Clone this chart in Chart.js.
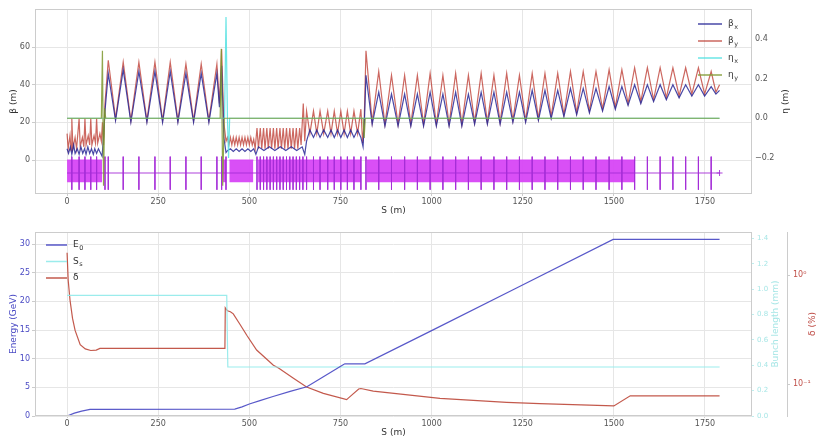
<!DOCTYPE html>
<html><head><meta charset="utf-8">
<script src="https://cdn.jsdelivr.net/npm/chart.js@4.4.0/dist/chart.umd.min.js"></script>
<style>
html,body{margin:0;padding:0;background:#fff;}
#wrap{position:relative;width:820px;height:438px;overflow:hidden;}
canvas{position:absolute;left:0;}
#c1{top:0;} #c2{top:219px;}
</style></head><body>
<div id="wrap"><canvas id="c1" width="820" height="219"></canvas><canvas id="c2" width="820" height="219"></canvas></div>
<script>
// ---------------- DATA ----------------
const X_TICKS = [0,250,500,750,1000,1250,1500,1750];
const BETA_TICKS = [0,20,40,60];
const ETA_TICKS = [-0.2,0,0.2,0.4];
const ENERGY_TICKS = [0,5,10,15,20,25,30];
const SS_TICKS = [0,0.2,0.4,0.6,0.8,1.0,1.2,1.4];
const DELTA_TICKS = [0.1,1];
const LATTICE_END = 1790;

// beta_x [s (m), beta (m)]
const betaX = [[0,6],[4,3.5],[9,7],[13,3],[18,8],[22,3.5],[28,6],[33,3],[38,7],[43,3.5],[48,6],[52,3],[57,7],[62,3.5],[67,6],[72,3],[76,6],[81,3.5],[86,6],[91,4],[96,2],[100,12],[104,26],
[113,46],[133,21],[154,48],[175,20],[197,47],[219,20],[241,47],[262,20],[283,47],[304,20],[326,46],[347,20],[368,46],[389,20],[411,46],[418,28],[424,50],[430,12],[436,4],
[440,5],[448,6],[456,4.5],[464,6],[472,4.5],[480,6],[488,4.5],[496,6],[504,4.5],[512,6],[518,3],
[525,7],[540,5],[555,7],[570,5],[585,7],[600,5],[615,7],[630,5],[645,7],[652,3],
[657,10],[666,16],[676,12],[685,16],[694,12],[704,16],[715,12],[724,16],[733,12],[742,16],[751,12],[760,16],[769,12],[778,16],[787,12],[797,16],[806,12],[812,7],[816,22],
[820,45],[837,19],[855,36],[872,18],[890,35],[908,18],[926,35],[943,18],[961,35],[978,18],[996,36],[1013,18],[1031,35],[1048,18],[1066,36],[1083,18],[1101,35],[1118,19],[1136,36],[1153,19],[1171,36],[1188,19],[1206,36],[1223,20],[1241,36],[1258,20],[1276,37],[1293,21],[1311,37],[1328,22],[1346,37],[1363,23],[1381,38],[1398,24],[1416,38],[1433,25],[1451,38],[1469,26],[1487,39],[1504,27],[1522,39],[1539,29],[1557,40],[1574,30],[1592,40],[1609,31],[1627,40],[1644,32],[1662,40],[1679,33],[1697,40],[1714,34],[1732,40],[1749,34],[1767,39],[1780,35],[1790,37]];

// beta_y [s (m), beta (m)]
const betaY = [[0,14],[3,6],[8,13],[11,5],[13,22],[16,6],[22,12],[26,6],[33,22],[36,7],[42,12],[46,7],[49,22],[52,8],[58,13],[62,8],[65,22],[68,8],[74,13],[78,9],[81,22],[84,9],[90,14],[94,10],[97,20],[100,8],[104,30],
[113,53],[133,22],[154,52],[175,21],[197,52],[219,21],[241,52],[262,21],[283,52],[304,21],[326,51],[347,21],[368,51],[389,21],[411,51],[418,30],[424,59],[430,20],[436,10],
[440,12],[444,8],[448,12],[452,8],[456,12],[460,8],[464,12],[468,8],[472,12],[476,8],[480,12],[484,8],[488,12],[492,8],[496,12],[500,8],[504,12],[508,8],[512,11],[516,6],
[521,17],[525,6],[530,17],[534,6],[539,17],[543,6],[548,17],[552,6],[557,17],[561,6],[566,17],[570,6],[575,17],[579,6],[584,17],[588,6],[593,17],[597,6],[602,17],[606,6],[611,17],[615,6],[620,17],[624,6],[629,17],[633,6],[638,17],[642,8],[648,30],[652,10],
[657,26],[666,14],[676,26],[685,14],[694,26],[704,14],[715,26],[724,14],[733,26],[742,14],[751,26],[760,14],[769,26],[778,14],[787,26],[797,14],[806,27],[811,9],[815,20],
[820,58],[837,20],[855,47],[872,19],[890,45],[908,19],[926,45],[943,19],[961,45],[978,19],[996,46],[1013,19],[1031,45],[1048,19],[1066,46],[1083,19],[1101,45],[1118,20],[1136,46],[1153,20],[1171,45],[1188,20],[1206,46],[1223,21],[1241,45],[1258,21],[1276,46],[1293,22],[1311,46],[1328,23],[1346,46],[1363,24],[1381,47],[1398,25],[1416,47],[1433,26],[1451,47],[1469,27],[1487,48],[1504,28],[1522,48],[1539,30],[1557,49],[1574,31],[1592,49],[1609,32],[1627,49],[1644,33],[1662,49],[1679,34],[1697,49],[1714,35],[1732,49],[1749,35],[1767,47],[1780,36],[1790,40]];

// eta_x, eta_y [s (m), eta (m)]
const etaX = [[0,0],[432,0],[436,0.51],[440,0],[443,-0.2],[446,0],[1790,0]];
const etaY = [[0,0],[94,0],[97,0.34],[100,-0.34],[103,0.05],[106,0],[420,0],[423,0.35],[427,-0.34],[431,0],[812,0],[815,-0.1],[818,0],[1790,0]];

// magnet layout: dense regions [s start, s end] and individual quad positions (m)
const denseBands = [[0,96],[428,436],[445,511],[524,806],[822,1558]];
const quadPos = [13,33,49,65,81,104,113,154,197,241,283,326,368,411,424,436,
521,530,539,548,557,566,575,584,593,602,611,620,629,638,647,
657,676,694,715,733,751,769,787,806,
820,855,890,926,961,996,1031,1066,1101,1136,1171,1206,1241,1276,1311,1346,1381,1416,1451,1487,1522,1557,1592,1627,1662,1697,1732,1767];

// bottom panel
const energy = [[0,0],[20,0.5],[40,0.85],[63,1.17],[460,1.2],[480,1.6],[500,2.1],[529,2.67],[565,3.4],[612,4.3],[658,5.1],[702,6.8],[754,8.8],[762,9.1],[817,9.1],[1000,14.9],[1229,22.2],[1498,30.8],[1790,30.8]];
const sigmaS = [[0,0.95],[438,0.95],[441,0.386],[1790,0.386]];
const delta = [[0,1.6],[3,0.9],[8,0.59],[15,0.4],[22,0.31],[36,0.23],[50,0.21],[65,0.203],[80,0.205],[90,0.212],[433,0.212],[434,0.5],[440,0.47],[448,0.46],[456,0.44],[475,0.35],[493,0.28],[520,0.205],[566,0.149],[580,0.14],[621,0.113],[657,0.094],[703,0.082],[767,0.072],[773,0.075],[800,0.09],[806,0.091],[840,0.086],[1023,0.074],[1206,0.068],[1297,0.066],[1500,0.063],[1545,0.078],[1790,0.078]];

// ---------------- STYLE ----------------
const FONT = "'DejaVu Sans', 'Liberation Sans', sans-serif";
Chart.defaults.font.family = FONT;
const COL = {
  betaX: 'rgba(40,40,150,0.85)', betaY: 'rgba(185,45,35,0.72)',
  etaX: 'rgba(80,225,225,0.85)', etaY: 'rgba(125,150,45,0.85)',
  mag: 'rgba(215,70,245,0.95)', magTick: 'rgba(165,45,215,0.9)',
  energy: 'rgba(70,70,195,0.9)', ss: 'rgba(150,235,235,0.95)', delta: 'rgba(185,60,45,0.85)',
  grid: '#e6e6e6', frame: '#cccccc', tick: '#555555', text: '#333333'
};
// magnet layout drawn in beta-axis units
const MAG = {bandTop: 0, bandBottom: -11.8, line: -6.9, tickTop: 1.8, tickBottom: -15.8};

function pts(arr){ return arr.map(p => ({x:p[0], y:p[1]})); }
function fixTicks(vals){ return s => { s.ticks = vals.map(v => ({value:v})); }; }
function fixW(w){ return s => { s.width = w; }; }
function fixH(h){ return s => { s.height = h; }; }

const framePlugin = { id:'frame', afterDatasetsDraw(chart){
  const a = chart.chartArea, c = chart.ctx; c.save();
  c.strokeStyle = COL.frame; c.lineWidth = 1;
  c.strokeRect(Math.round(a.left)+0.5, Math.round(a.top)+0.5, Math.round(a.right-a.left)-1, Math.round(a.bottom-a.top)-1);
  c.restore(); } };

function subText(c, main, sub, x, y, color, size){
  c.fillStyle = color; c.textBaseline = 'middle'; c.textAlign = 'left';
  c.font = size + 'px ' + FONT; c.fillText(main, x, y);
  const w = c.measureText(main).width;
  if (sub){ c.font = (size*0.72) + 'px ' + FONT; c.fillText(sub, x + w + 0.5, y + size*0.33); }
}
const legendPlugin = { id:'mylegend', afterDraw(chart, args, o){
  const c = chart.ctx; c.save();
  o.items.forEach((it, i) => {
    const y = o.y0 + i*o.dy;
    c.strokeStyle = it.color; c.lineWidth = 1.5;
    c.beginPath(); c.moveTo(o.x0, y); c.lineTo(o.x1, y); c.stroke();
    subText(c, it.main, it.sub, o.x1 + 6, y, COL.text, 9);
  });
  c.restore(); } };
const rightTitlePlugin = { id:'rtitles', afterDraw(chart, args, o){
  const c = chart.ctx, a = chart.chartArea; c.save();
  o.items.forEach(it => {
    c.translate(it.x, (a.top + a.bottom)/2 + (it.dy||0)); c.rotate(-Math.PI/2);
    c.font = '9px ' + FONT; c.fillStyle = it.color; c.textAlign = 'center'; c.textBaseline = 'middle';
    c.fillText(it.text, 0, 0); c.setTransform(1,0,0,1,0,0);
  });
  c.restore(); } };

function xAxis(h, titlePadBottom){
  return { type:'linear', min:-88, max:1879, afterBuildTicks: fixTicks(X_TICKS), afterFit: fixH(h),
    grid:{color:COL.grid, tickLength:2, tickColor:COL.frame}, border:{display:false},
    ticks:{font:{size:8}, color:COL.tick, padding:1, maxRotation:0, autoSkip:false, callback: v => String(v)},
    title:{display:true, text:'S (m)', font:{size:9}, color:COL.text, padding:{top:0, bottom:titlePadBottom}} };
}

// ---------------- TOP CHART ----------------
const topDatasets = [
  {data: pts(etaY), yAxisID:'y1', borderColor: COL.etaY},
  {data: pts(etaX), yAxisID:'y1', borderColor: COL.etaX},
  {data: pts(betaX), yAxisID:'y', borderColor: COL.betaX},
  {data: pts(betaY), yAxisID:'y', borderColor: COL.betaY},
  {data: pts([[0, MAG.line],[LATTICE_END, MAG.line]]), yAxisID:'y', borderColor: COL.magTick, borderWidth:1},
  {data: pts([[LATTICE_END, MAG.line]]), yAxisID:'y', borderColor: COL.magTick, pointStyle:'cross', pointRadius:3, pointBorderWidth:1, showLine:false},
];
const tickPts = [];
quadPos.forEach(s => { tickPts.push({x:s, y:MAG.tickTop}, {x:s, y:MAG.tickBottom}, {x:s, y:null}); });
topDatasets.push({data: tickPts, yAxisID:'y', borderColor: COL.magTick, borderWidth:1, spanGaps:false});
denseBands.forEach(b => topDatasets.push({data: pts([[b[0], MAG.bandTop],[b[1], MAG.bandTop]]), yAxisID:'y',
  borderColor: COL.mag, borderWidth:1, backgroundColor: COL.mag, fill:{value: MAG.bandBottom}}));

new Chart(document.getElementById('c1'), {
  type:'line',
  data:{datasets: topDatasets},
  options:{
    responsive:false, animation:false, devicePixelRatio:1, events:[],
    layout:{padding:{top:9, left:0, right:0, bottom:0}},
    elements:{point:{radius:0}, line:{tension:0, borderWidth:1.2, fill:false}},
    scales:{
      x: xAxis(25, 3),
      y: { position:'left', min:-18.05, max:80.2, afterBuildTicks: fixTicks(BETA_TICKS), afterFit: fixW(35),
        grid:{color:COL.grid, tickLength:3, tickColor:COL.frame}, border:{display:false},
        ticks:{font:{size:8}, color:COL.tick, padding:2},
        title:{display:true, text:'β (m)', font:{size:9}, color:COL.text, padding:{top:8, bottom:0}} },
      y1: { position:'right', min:-0.382, max:0.551, afterBuildTicks: fixTicks(ETA_TICKS), afterFit: fixW(68),
        grid:{drawOnChartArea:false, drawTicks:false}, border:{display:false},
        ticks:{font:{size:8}, color:COL.tick, padding:3,
          callback: v => (v < -1e-9 ? '−' : '') + Math.abs(v).toFixed(1)} }
    },
    plugins:{ legend:{display:false}, tooltip:{enabled:false},
      mylegend:{x0:698, x1:722, y0:24, dy:17, items:[
        {main:'β', sub:'x', color:COL.betaX},{main:'β', sub:'y', color:COL.betaY},
        {main:'η', sub:'x', color:COL.etaX},{main:'η', sub:'y', color:COL.etaY}]},
      rtitles:{items:[{text:'η (m)', x:786, color:COL.text}]}
    }
  },
  plugins:[framePlugin, legendPlugin, rightTitlePlugin]
});

// ---------------- BOTTOM CHART ----------------
new Chart(document.getElementById('c2'), {
  type:'line',
  data:{datasets:[
    {data: pts(energy), yAxisID:'y', borderColor: COL.energy},
    {data: pts(sigmaS), yAxisID:'y2', borderColor: COL.ss},
    {data: pts(delta), yAxisID:'y3', borderColor: COL.delta}
  ]},
  options:{
    responsive:false, animation:false, devicePixelRatio:1, events:[],
    layout:{padding:{top:13, left:0, right:0, bottom:0}},
    elements:{point:{radius:0}, line:{tension:0, borderWidth:1.2, fill:false}},
    scales:{
      x: xAxis(22, 0),
      y: { position:'left', min:0, max:32.1, afterBuildTicks: fixTicks(ENERGY_TICKS), afterFit: fixW(35),
        grid:{color:COL.grid, tickLength:3, tickColor:COL.frame}, border:{display:false},
        ticks:{font:{size:8}, color:'#4a4ac4', padding:2},
        title:{display:true, text:'Energy (GeV)', font:{size:9}, color:'#4a4ac4', padding:{top:8, bottom:0}} },
      y2: { position:'right', min:0, max:1.45, afterBuildTicks: fixTicks(SS_TICKS), afterFit: fixW(35),
        grid:{drawOnChartArea:false, tickLength:2, tickColor:'#bfeeee'}, border:{display:false},
        ticks:{font:{size:7}, color:'#a6e6e6', padding:3, callback: v => v.toFixed(1)} },
      y3: { type:'logarithmic', position:'right', min:0.0509, max:2.48, afterBuildTicks: fixTicks(DELTA_TICKS), afterFit: fixW(33),
        grid:{drawOnChartArea:false, tickLength:3, tickColor:COL.frame}, border:{display:true, color:COL.frame},
        ticks:{font:{size:8}, color:'#c0504a', padding:3,
          callback: v => Math.abs(v-1) < 1e-9 ? '10⁰' : (Math.abs(v-0.1) < 1e-9 ? '10⁻¹' : '')} }
    },
    plugins:{ legend:{display:false}, tooltip:{enabled:false},
      mylegend:{x0:46, x1:67, y0:26, dy:16.5, items:[
        {main:'E', sub:'0', color:COL.energy},{main:'S', sub:'s', color:COL.ss},{main:'δ', sub:'', color:COL.delta}]},
      rtitles:{items:[{text:'Bunch length (mm)', x:776, color:'#a6e6e6'},{text:'δ (%)', x:813, color:'#c0504a'}]}
    }
  },
  plugins:[framePlugin, legendPlugin, rightTitlePlugin]
});
</script>
</body></html>
